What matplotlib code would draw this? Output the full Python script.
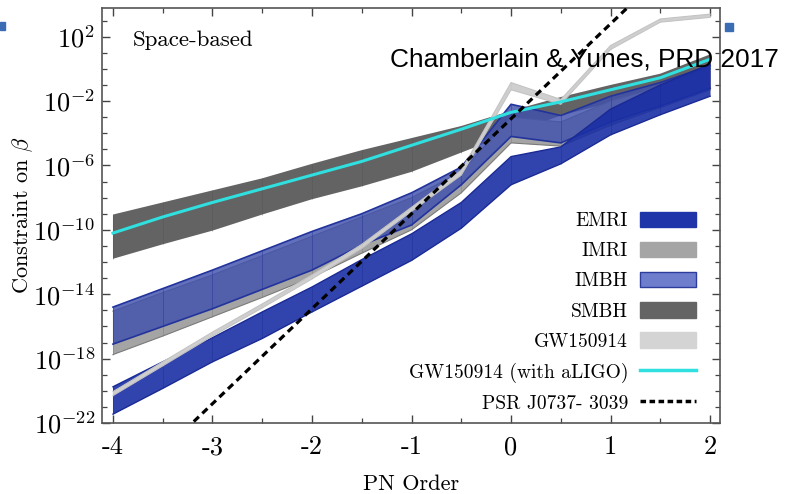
import matplotlib
matplotlib.use('Agg')
import matplotlib.pyplot as plt
import numpy as np
from matplotlib.patches import Patch, Rectangle
from matplotlib.lines import Line2D
from matplotlib.ticker import FixedLocator, NullFormatter

plt.rcParams['mathtext.fontset'] = 'cm'
plt.rcParams['font.family'] = ['cmr10', 'DejaVu Serif']
plt.rcParams['axes.unicode_minus'] = False

# PN order grid and log10 of the constraint on beta
pn = [-4, -3.5, -3, -2.5, -2, -1.5, -1, -0.5, 0, 0.5, 1, 1.5, 2]

smbh_hi = [-9.05, -8.3, -7.55, -6.8, -5.9, -5.05, -4.3, -3.55, -2.6, -1.75, -1.0, -0.3, 0.9]
smbh_lo = [-11.8, -10.9, -10.05, -9.05, -8.1, -7.3, -6.4, -5.2, -4.0, -2.9, -2.1, -1.3, 0.0]

imri_hi = [-15.05, -13.9, -12.8, -11.6, -10.4, -9.2, -8.0, -6.4, -3.0, -3.3, -2.0, -1.1, 0.0]
imri_lo = [-17.75, -16.6, -15.4, -14.2, -12.95, -11.45, -10.0, -7.7, -4.6, -4.8, -3.5, -2.4, -1.3]

imbh_hi = [-14.8, -13.65, -12.5, -11.3, -10.1, -9.0, -7.7, -6.1, -2.2, -2.9, -1.7, -0.85, 0.2]
imbh_lo = [-17.1, -16.0, -14.9, -13.7, -12.5, -10.95, -9.7, -7.2, -4.2, -4.6, -3.3, -2.3, -1.2]

emri_hi = [-19.75, -18.2, -16.7, -15.1, -13.55, -11.85, -10.25, -8.3, -5.45, -4.85, -2.5, -1.0, 0.3]
emri_lo = [-21.45, -19.85, -18.2, -16.75, -15.1, -13.5, -11.9, -9.9, -7.2, -5.9, -4.1, -2.85, -1.7]

gw_hi = [-20.05, -18.2, -16.35, -14.6, -12.8, -10.9, -8.6, -6.3, -0.85, -1.9, 1.45, 3.1, 3.4]
gw_lo = [-20.3, -18.45, -16.6, -14.85, -13.05, -11.15, -8.85, -6.6, -1.3, -2.2, 1.2, 2.9, 3.2]

aligo = [-10.2, -9.2, -8.3, -7.45, -6.6, -5.75, -4.75, -3.75, -2.7, -2.05, -1.3, -0.55, 0.6]

psr_x = [-4, 2]
psr_log = [-26.7, 8.7]

xtick_vals = [-4, -3, -2, -1, 0, 1, 2]
ytick_exp = [2, -2, -6, -10, -14, -18, -22]

labels = ['EMRI', 'IMRI', 'IMBH', 'SMBH', 'GW150914', 'GW150914 (with aLIGO)', 'PSR J0737- 3039']


def lg(v):
    return 10.0 ** np.array(v)


fig = plt.figure(figsize=(7.86, 4.94), dpi=100)
ax = fig.add_axes([0.1298, 0.1437, 0.7863, 0.8401])
ax.set_yscale('log')


def band(lo, hi, face, alpha, edge, z, elw=1.0):
    ax.fill_between(pn, lg(lo), lg(hi), facecolor=face, alpha=alpha, lw=0, zorder=z)
    if edge is not None:
        ax.plot(pn, lg(hi), color=edge, lw=elw, zorder=z)
        ax.plot(pn, lg(lo), color=edge, lw=elw, zorder=z)
    ax.vlines(pn, lg(lo), lg(hi), color=edge if edge else '#555555', lw=0.6, alpha=0.5, zorder=z)


band(smbh_lo, smbh_hi, '#636363', 1.0, None, 1)
band(imri_lo, imri_hi, '#a4a4a4', 1.0, '#7a7a7a', 2, 0.8)
band(imbh_lo, imbh_hi, '#4050ac', 0.82, '#22339c', 3, 1.2)
band(emri_lo, emri_hi, '#1a2fa5', 0.9, '#1a2a95', 4, 1.0)
band(gw_lo, gw_hi, '#cfcfcf', 1.0, '#c4c4c4', 5, 0.8)
ax.plot(pn, lg(aligo), color='#30e0e0', lw=2.2, zorder=6)
ax.plot(psr_x, lg(psr_log), color='k', lw=2.3, ls=(0, (2.2, 1.5)), zorder=7)

ax.set_xlim(-4.11, 2.1)
ax.set_ylim(1e-22, 10 ** 3.78)

ax.set_xticks(xtick_vals)
ax.set_xticklabels([str(v) for v in xtick_vals])
ax.xaxis.set_minor_locator(FixedLocator([-3.5, -2.5, -1.5, -0.5, 0.5, 1.5]))
ax.set_yticks([10.0 ** e for e in ytick_exp])
ax.set_yticklabels(['$10^{%d}$' % e for e in ytick_exp])
ax.yaxis.set_minor_locator(FixedLocator([10.0 ** k for k in range(-22, 4)]))
ax.yaxis.set_minor_formatter(NullFormatter())

ax.tick_params(which='both', direction='in', top=True, right=True, color='#444444', labelsize=19)
ax.tick_params(which='major', length=6, width=1.0)
ax.tick_params(which='minor', length=3.5, width=0.9)
ax.tick_params(axis='x', pad=9)
ax.tick_params(axis='y', pad=5)
for s in ax.spines.values():
    s.set_color('#555555')
    s.set_linewidth(1.2)

ax.set_xlabel('PN Order', fontsize=16, labelpad=11)
ax.set_ylabel(r'Constraint on $\beta$', fontsize=16, labelpad=-1)

ax.text(0.05, 0.923, 'Space-based', transform=ax.transAxes, fontsize=16.5, va='center', ha='left')

handles = [
    Patch(facecolor='#1f34a8', edgecolor='#1f34a8'),
    Patch(facecolor='#a5a5a5', edgecolor='#a5a5a5'),
    Patch(facecolor='#6e7ecd', edgecolor='#2c3c9c'),
    Patch(facecolor='#646464', edgecolor='#646464'),
    Patch(facecolor='#d4d4d4', edgecolor='#d4d4d4'),
    Line2D([], [], color='#30e0e0', lw=2.5),
    Line2D([], [], color='k', lw=2.5, ls=(0, (1.6, 1.0))),
]
fig.legend(handles, labels, loc='upper right', bbox_to_anchor=(0.908, 0.607),
           frameon=False, markerfirst=False, fontsize=14, handlelength=2.9,
           handleheight=0.85, handletextpad=0.6, labelspacing=0.6, borderpad=0.4)

fig.text(0.496, 0.879, 'Chamberlain & Yunes, PRD 2017', fontsize=18.9,
         family=['Liberation Sans', 'DejaVu Sans'], ha='left', va='center')

# small slide marks
fig.patches.append(Rectangle((0, 1 - 30 / 494), 5 / 786, 8 / 494, transform=fig.transFigure,
                             color='#3b6db5'))
fig.patches.append(Rectangle((725 / 786, 1 - 31 / 494), 8 / 786, 8 / 494, transform=fig.transFigure,
                             color='#3b6db5'))

fig.savefig('out.png', dpi=100)
